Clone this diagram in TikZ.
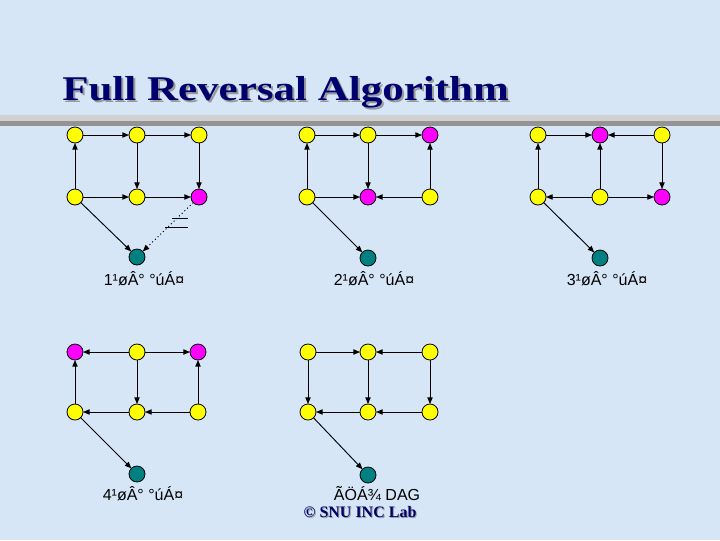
\documentclass[tikz,border=0pt]{standalone}
\usepackage{fontspec}
\setmainfont{Liberation Serif}
\newfontfamily\arialfont{Liberation Sans}
\usepackage{graphicx}
\usepackage{tkz-graph}
\usetikzlibrary{arrows.meta}
\definecolor{slidebg}{RGB}{214,230,246}
\definecolor{titleblue}{RGB}{0,0,110}
\definecolor{sinkteal}{RGB}{0,128,128}
\definecolor{vyellow}{RGB}{255,255,0}
\definecolor{vmagenta}{RGB}{255,0,255}
\tikzset{reversed/.style={VertexStyle/.append style={fill=vmagenta}},
  sink/.style={VertexStyle/.append style={fill=sinkteal}}}

\begin{document}
\begin{tikzpicture}[x=0.75pt,y=-0.75pt]
        \useasboundingbox (0,0) rectangle (720,540);
        \fill[slidebg] (0,0) rectangle (720,540);
        \fill[black!18] (0,115) rectangle (720,121);
        \fill[black!42] (0,121) rectangle (720,126);
        \node[anchor=base west, inner sep=0pt, text=black!40] (shadow) at (64,102)
          {\fontsize{26}{30}\selectfont\bfseries\scalebox{1.24}[1]{Full Reversal Algorithm}};
        \node[anchor=base west, inner sep=0pt, text=titleblue] (title) at (62,100)
          {\fontsize{26}{30}\selectfont\bfseries\scalebox{1.24}[1]{Full Reversal Algorithm}};
        \GraphInit[vstyle=Normal]
        \SetVertexNoLabel
        \tikzset{VertexStyle/.style={shape=circle, draw=black, line width=0.6pt,
            fill=vyellow, minimum size=12pt, inner sep=0pt},
          EdgeStyle/.style={draw=black, line width=0.7pt,
            -{Triangle[length=5pt,width=4pt]}}}
        % step 1
        \Vertex[x=75,y=135]{a1}
        \Vertex[x=137,y=135]{b1}
        \Vertex[x=199,y=135]{c1}
        \Vertex[x=75,y=197]{d1}
        \Vertex[x=137,y=197]{e1}
        \begin{scope}[reversed]\Vertex[x=199,y=197]{f1}\end{scope}
        \begin{scope}[sink]\Vertex[x=137,y=257]{g1}\end{scope}
        \Edge(d1)(a1)
        \Edge(a1)(b1)
        \Edge(b1)(c1)
        \Edge(b1)(e1)
        \Edge(c1)(f1)
        \Edge(d1)(e1)
        \Edge(e1)(f1)
        \Edge[style={line width=0.6pt}](d1)(g1)
        \Edge[style={dotted, line width=0.7pt}](f1)(g1)
        \draw[line width=0.7pt] (172,218) -- (188,218);
        \draw[line width=0.7pt] (165,227) -- (188,227);
        \node[font=\arialfont\fontsize{12}{14}\selectfont] (cap1) at (144,279) {1¹øÂ° °úÁ¤};
        % step 2
        \Vertex[x=307,y=135]{a2}
        \Vertex[x=368,y=135]{b2}
        \begin{scope}[reversed]\Vertex[x=430,y=135]{c2}\end{scope}
        \Vertex[x=307,y=197]{d2}
        \begin{scope}[reversed]\Vertex[x=368,y=197]{e2}\end{scope}
        \Vertex[x=430,y=197]{f2}
        \begin{scope}[sink]\Vertex[x=368,y=258]{g2}\end{scope}
        \Edge(d2)(a2)
        \Edge(a2)(b2)
        \Edge(b2)(c2)
        \Edge(b2)(e2)
        \Edge(d2)(e2)
        \Edge(f2)(e2)
        \Edge(f2)(c2)
        \Edge[style={line width=0.5pt}](d2)(g2)
        \node[font=\arialfont\fontsize{12}{14}\selectfont] (cap2) at (374,279) {2¹øÂ° °úÁ¤};
        % step 3
        \Vertex[x=538,y=135]{a3}
        \begin{scope}[reversed]\Vertex[x=600,y=135]{b3}\end{scope}
        \Vertex[x=662,y=135]{c3}
        \Vertex[x=538,y=197]{d3}
        \Vertex[x=600,y=197]{e3}
        \begin{scope}[reversed]\Vertex[x=662,y=197]{f3}\end{scope}
        \begin{scope}[sink]\Vertex[x=600,y=258]{g3}\end{scope}
        \Edge(d3)(a3)
        \Edge(a3)(b3)
        \Edge(c3)(b3)
        \Edge(e3)(b3)
        \Edge(c3)(f3)
        \Edge(e3)(d3)
        \Edge(e3)(f3)
        \Edge[style={line width=0.5pt}](d3)(g3)
        \node[font=\arialfont\fontsize{12}{14}\selectfont] (cap3) at (607,279) {3¹øÂ° °úÁ¤};
        % step 4
        \begin{scope}[reversed]\Vertex[x=75,y=352]{a4}\end{scope}
        \Vertex[x=137,y=352]{b4}
        \begin{scope}[reversed]\Vertex[x=198,y=352]{c4}\end{scope}
        \Vertex[x=75,y=412]{d4}
        \Vertex[x=137,y=412]{e4}
        \Vertex[x=198,y=412]{f4}
        \begin{scope}[sink]\Vertex[x=137,y=474]{g4}\end{scope}
        \Edge(b4)(a4)
        \Edge(b4)(c4)
        \Edge(b4)(e4)
        \Edge(d4)(a4)
        \Edge(f4)(c4)
        \Edge(e4)(d4)
        \Edge(f4)(e4)
        \Edge[style={line width=0.5pt}](d4)(g4)
        \node[font=\arialfont\fontsize{12}{14}\selectfont] (cap4) at (143,494) {4¹øÂ° °úÁ¤};
        % final DAG
        \Vertex[x=308,y=352]{a5}
        \Vertex[x=368,y=352]{b5}
        \Vertex[x=430,y=352]{c5}
        \Vertex[x=308,y=412]{d5}
        \Vertex[x=368,y=412]{e5}
        \Vertex[x=430,y=412]{f5}
        \begin{scope}[sink]\Vertex[x=368,y=475]{g5}\end{scope}
        \Edge(a5)(b5)
        \Edge(c5)(b5)
        \Edge(a5)(d5)
        \Edge(b5)(e5)
        \Edge(c5)(f5)
        \Edge(e5)(d5)
        \Edge(f5)(e5)
        \Edge[style={line width=0.5pt}](d5)(g5)
        \node[font=\arialfont\fontsize{12}{14}\selectfont] (cap5) at (377,494) {ÃÖÁ¾ DAG};
        \node[font=\fontsize{12}{14}\selectfont\bfseries, text=black!40] (labshadow) at (361,513) {© SNU INC Lab};
        \node[font=\fontsize{12}{14}\selectfont\bfseries, text=titleblue] (lab) at (360,512) {© SNU INC Lab};
      \end{tikzpicture}
\end{document}
